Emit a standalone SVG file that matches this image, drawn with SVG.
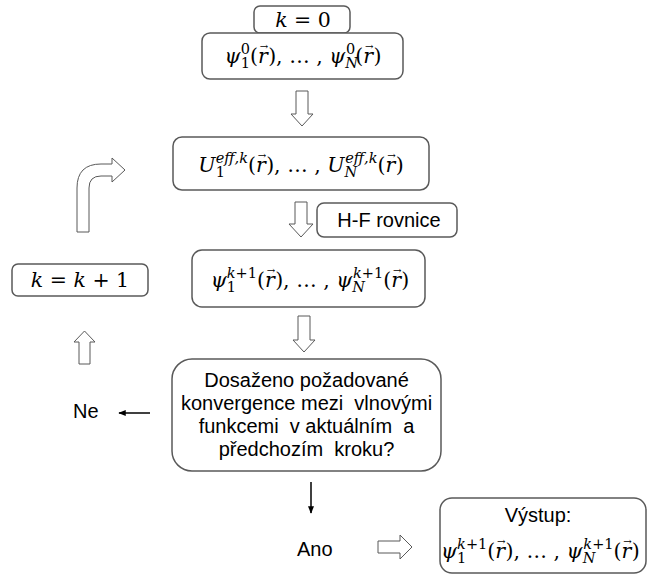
<svg xmlns="http://www.w3.org/2000/svg" width="648" height="575" viewBox="0 0 648 575">
<style>
.box{fill:#fff;stroke:#595959;stroke-width:1.5}
.blk{fill:#fff;stroke:#595959;stroke-width:1}
.t{font-family:"Liberation Sans",Arial,sans-serif;font-size:20px;fill:#000;white-space:pre}
.m{font-family:"DejaVu Serif","Liberation Serif",serif;font-size:20.5px;fill:#000}
.i{font-style:italic}
.s{font-size:14.5px}
.v{font-size:10px;font-style:normal}
</style>
<defs>
<marker id="ah" viewBox="0 0 10 10" refX="9" refY="5" markerWidth="5" markerHeight="5" orient="auto"><path d="M0,1 L10,5 L0,9 z" fill="#000"/></marker>
</defs>
<rect width="648" height="575" fill="#fff"/>
<g id="connectors">
<path class="blk" d="M296,91 H308 V114 H313 L302,126 L291,114 H296 Z"/>
<path class="blk" d="M295,202 H307 V224 H313 L301,237 L289,224 H295 Z"/>
<path class="blk" d="M298,316 H310 V340 H315 L304,352 L293,340 H298 Z"/>
<path class="blk" d="M79,364 V342 H74 L84.5,331 L95,342 H90 V364 Z"/>
<path class="blk" d="M77,232 V188 Q77,164 101,164 H112 V158 L125,170 L112,182 V176 H101 Q89,176 89,188 V232 Z"/>
<path class="blk" d="M378,541 H400 V535 L412,547 L400,559 V553 H378 Z"/>
<line x1="150" y1="413" x2="119" y2="413" stroke="#000" stroke-width="1.5" marker-end="url(#ah)"/>
<line x1="311" y1="482" x2="311" y2="513" stroke="#000" stroke-width="1.5" marker-end="url(#ah)"/>
</g>
<g id="k0">
<rect class="box" x="254" y="6" width="96" height="27" rx="6"/>
<text class="m" x="303" y="27" text-anchor="middle"><tspan class="i">k</tspan> = 0</text>
</g>
<g id="psi0">
<rect class="box" x="202" y="33" width="201" height="46" rx="8"/>
<text class="m" x="303" y="63" text-anchor="middle"><tspan class="i">ψ</tspan><tspan class="s" dy="5">1</tspan><tspan class="s" dx="-9.2" dy="-14.5">0</tspan><tspan dy="9.5">(</tspan><tspan class="i">r</tspan><tspan class="v" dx="-8" dy="-13">→</tspan><tspan dy="13">), … , </tspan><tspan class="i">ψ</tspan><tspan class="s i" dy="5">N</tspan><tspan class="s" dx="-12" dy="-14.5">0</tspan><tspan dy="9.5">(</tspan><tspan class="i">r</tspan><tspan class="v" dx="-8" dy="-13">→</tspan><tspan dy="13">)</tspan></text>
</g>
<g id="ueff">
<rect class="box" x="173" y="137" width="256" height="53" rx="9"/>
<text class="m" x="301" y="172" text-anchor="middle"><tspan class="i">U</tspan><tspan class="s" dy="5">1</tspan><tspan class="s i" dx="-9.2" dy="-14.5">eff,k</tspan><tspan dy="9.5">(</tspan><tspan class="i">r</tspan><tspan class="v" dx="-8" dy="-13">→</tspan><tspan dy="13">), … , </tspan><tspan class="i">U</tspan><tspan class="s i" dy="5">N</tspan><tspan class="s i" dx="-12" dy="-14.5">eff,k</tspan><tspan dy="9.5">(</tspan><tspan class="i">r</tspan><tspan class="v" dx="-8" dy="-13">→</tspan><tspan dy="13">)</tspan></text>
</g>
<g id="hf">
<rect class="box" x="317" y="203" width="140" height="34" rx="7"/>
<text class="t" x="389" y="227" text-anchor="middle">H-F rovnice</text>
</g>
<g id="psik1">
<rect class="box" x="192" y="250" width="233" height="57" rx="10"/>
<text class="m" x="310" y="287" text-anchor="middle"><tspan class="i">ψ</tspan><tspan class="s" dy="5">1</tspan><tspan class="s" dx="-9.2" dy="-14.5"><tspan class="i">k</tspan>+1</tspan><tspan dy="9.5">(</tspan><tspan class="i">r</tspan><tspan class="v" dx="-8" dy="-13">→</tspan><tspan dy="13">), … , </tspan><tspan class="i">ψ</tspan><tspan class="s i" dy="5">N</tspan><tspan class="s" dx="-12" dy="-14.5"><tspan class="i">k</tspan>+1</tspan><tspan dy="9.5">(</tspan><tspan class="i">r</tspan><tspan class="v" dx="-8" dy="-13">→</tspan><tspan dy="13">)</tspan></text>
</g>
<g id="kk1">
<rect class="box" x="12" y="264" width="136" height="32" rx="6"/>
<text class="m" x="80" y="287" text-anchor="middle"><tspan class="i">k</tspan> = <tspan class="i">k</tspan> + 1</text>
</g>
<g id="decision">
<rect class="box" x="172" y="359" width="269" height="112" rx="20"/>
<text class="t" x="306.5" y="387" text-anchor="middle">Dosaženo požadované</text>
<text class="t" x="306.5" y="410" text-anchor="middle">konvergence mezi  vlnovými</text>
<text class="t" x="306.5" y="433" text-anchor="middle">funkcemi  v aktuálním  a</text>
<text class="t" x="306.5" y="456" text-anchor="middle">předchozím  kroku?</text>
</g>
<g id="ne"><text class="t" x="73" y="418">Ne</text></g>
<g id="ano"><text class="t" x="297" y="556">Ano</text></g>
<g id="output">
<rect class="box" x="440" y="498" width="206" height="75" rx="12"/>
<text class="t" x="538" y="522" text-anchor="middle">Výstup:</text>
<text class="m" x="441" y="558"><tspan class="i">ψ</tspan><tspan class="s" dy="5">1</tspan><tspan class="s" dx="-9.2" dy="-14.5"><tspan class="i">k</tspan>+1</tspan><tspan dy="9.5">(</tspan><tspan class="i">r</tspan><tspan class="v" dx="-8" dy="-13">→</tspan><tspan dy="13">), … , </tspan><tspan class="i">ψ</tspan><tspan class="s i" dy="5">N</tspan><tspan class="s" dx="-12" dy="-14.5"><tspan class="i">k</tspan>+1</tspan><tspan dy="9.5">(</tspan><tspan class="i">r</tspan><tspan class="v" dx="-8" dy="-13">→</tspan><tspan dy="13">)</tspan></text>
</g>
</svg>
